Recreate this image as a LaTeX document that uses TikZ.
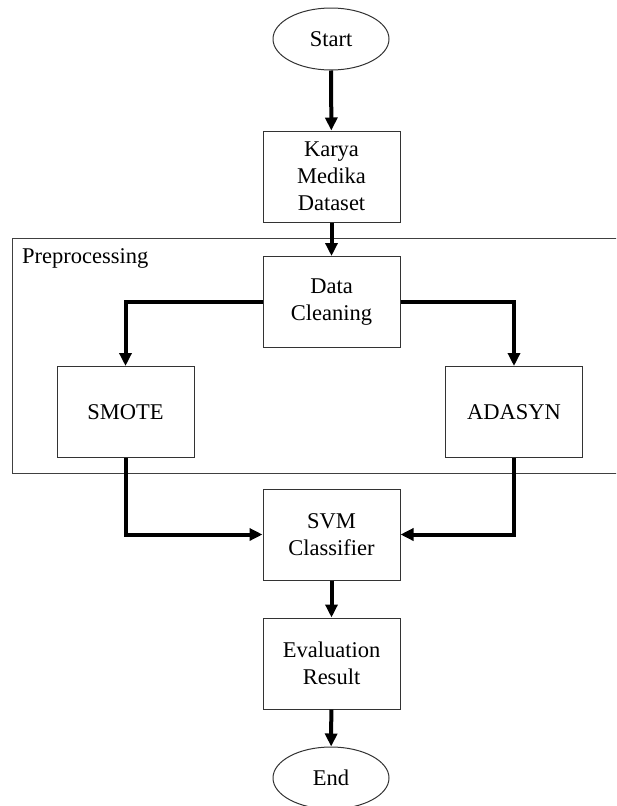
\documentclass[tikz,border=0pt]{standalone}
\usepackage{fontspec}
\setmainfont{Liberation Serif}
\usetikzlibrary{arrows.meta,shapes.geometric}

\tikzset{
  stepbox/.style={draw=black!80, line width=1pt, rectangle, inner sep=0pt,
    minimum width=137pt, minimum height=91pt, align=center,
    font=\fontsize{22.5}{27}\selectfont},
  terminal/.style={draw=black!80, line width=1pt, ellipse, inner sep=0pt,
    minimum width=116pt, minimum height=62pt,
    font=\fontsize{22.5}{27}\selectfont},
  flow/.style={line width=4pt, -{Triangle[length=13pt,width=12pt]}},
  frame/.style={draw=black!75, line width=1pt}
}

\begin{document}
\begin{tikzpicture}[x=1pt, y=-1pt]
  \useasboundingbox (0,0) rectangle (616,806);
  \clip (0,0) rectangle (616,806);

  % preprocessing group frame
  \draw[frame] (12,238) rectangle (630,473);
  \node[anchor=base west, inner sep=0pt, font=\fontsize{22.5}{27}\selectfont]
    (pre) at (22,263) {Preprocessing};

  % nodes
  \node[terminal] (start) at (331,39) {Start};
  \node[stepbox] (data) at (331.5,176.5) {Karya\\Medika\\Dataset};
  \node[stepbox] (clean) at (331.5,302) {Data\\Cleaning};
  \node[stepbox] (smote) at (125.5,412) {SMOTE};
  \node[stepbox] (adasyn) at (514,412) {ADASYN};
  \node[stepbox] (svm) at (331.5,534.5) {SVM\\Classifier};
  \node[stepbox] (eval) at (331.5,663.5) {Evaluation\\Result};
  \node[terminal] (end) at (331,778) {End};

  % connectors
  \draw[flow] (start) -- (data);
  \draw[flow] (data) -- (clean);
  \draw[flow] (clean.west) -| (smote.north);
  \draw[flow] (clean.east) -| (adasyn.north);
  \draw[flow] (smote.south) |- (svm.west);
  \draw[flow] (adasyn.south) |- (svm.east);
  \draw[flow] (svm) -- (eval);
  \draw[flow] (eval) -- (end);
\end{tikzpicture}
\end{document}
